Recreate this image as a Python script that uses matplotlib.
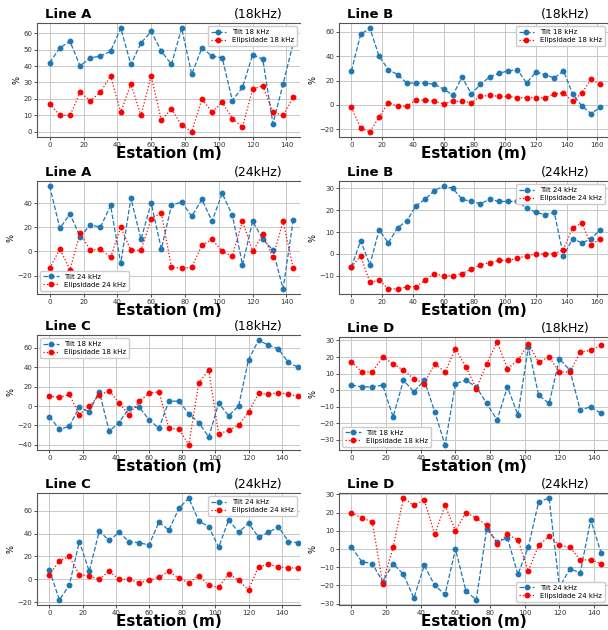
import numpy as np
import matplotlib
matplotlib.use("Agg")
import matplotlib.pyplot as plt

# station positions (m)
x_a = np.arange(0, 145, 6)
x_b = np.arange(0, 163, 6)
x_c = np.arange(0, 151, 6)
x_d = np.arange(0, 145, 6)

# Line A
tilt_a18 = [42, 51, 55, 40, 45, 46, 49, 63, 41, 54, 61, 49, 41, 63, 35, 51, 46, 45, 19, 27, 47, 44, 5, 29, 54]
elip_a18 = [17, 10, 10, 24, 19, 24, 34, 12, 29, 10, 34, 7, 14, 4, 0, 20, 12, 18, 8, 3, 26, 28, 12, 10, 21]
tilt_a24 = [54, 19, 31, 12, 22, 20, 38, -10, 44, 10, 40, 2, 38, 41, 29, 43, 25, 48, 30, -11, 25, 10, 1, -31, 26]
elip_a24 = [-14, 2, -15, 15, 1, 2, -5, 20, 1, 1, 27, 32, -13, -14, -13, 5, 10, 0, -4, 25, 0, 14, -5, 25, -14]

# Line B
tilt_b18 = [28, 58, 63, 40, 29, 25, 18, 18, 18, 17, 13, 8, 23, 9, 17, 23, 26, 28, 29, 18, 27, 25, 22, 28, 9, -1, -7, -2]
elip_b18 = [-2, -19, -22, -10, 2, -1, -1, 4, 4, 3, 1, 3, 3, 2, 7, 8, 7, 7, 6, 6, 6, 6, 9, 10, 3, 10, 21, 17]
tilt_b24 = [-6, 6, -5, 11, 5, 12, 15, 22, 25, 29, 31, 30, 25, 24, 23, 25, 24, 24, 24, 21, 19, 18, 19, -1, 7, 5, 7, 11]
elip_b24 = [-6, -1, -13, -12, -16, -16, -15, -15, -12, -9, -10, -10, -9, -7, -5, -4, -3, -3, -2, -1, 0, 0, 0, 2, 12, 14, 4, 7]

# Line C
tilt_c18 = [-11, -24, -21, -1, -6, 15, -26, -17, -2, -1, -14, -23, 5, 5, -8, -17, -32, 3, -10, 0, 48, 68, 63, 59, 45, 40]
elip_c18 = [10, 9, 12, -9, 0, 11, 16, 3, -9, 5, 13, 15, -23, -24, -40, 24, 37, -29, -25, -20, -6, 13, 12, 14, 12, 10]
tilt_c24 = [8, -18, -5, 33, 7, 42, 34, 41, 33, 32, 30, 50, 43, 62, 71, 51, 46, 28, 52, 41, 49, 37, 41, 46, 33, 32]
elip_c24 = [4, 16, 20, 4, 3, 0, 7, 0, 0, -3, -1, 2, 7, 1, -3, 3, -5, -7, 5, -1, -9, 11, 13, 11, 10, 10]

# Line D
tilt_d18 = [3, 2, 2, 3, -16, 6, -1, 6, -13, -33, 4, 6, 2, -8, -18, 2, -15, 26, -3, -8, 19, 12, -12, -10, -14]
elip_d18 = [17, 11, 11, 20, 16, 12, 7, 4, 16, 11, 25, 14, 1, 16, 29, 13, 18, 28, 17, 20, 11, 11, 23, 24, 27]
tilt_d24 = [1, -7, -8, -18, -8, -14, -27, -9, -20, -25, 0, -23, -28, 11, 4, 6, -14, 1, 26, 28, -21, -11, -13, 16, -2]
elip_d24 = [20, 17, 15, -19, 1, 28, 24, 27, 8, 24, 10, 20, 17, 13, 3, 8, 5, -12, 2, 7, 2, 1, -6, -6, -8]

W, H = 608, 630
fig = plt.figure(figsize=(W / 100, H / 100), dpi=100)


def px_axes(x0, x1, top, bottom):
    return fig.add_axes([x0 / W, 1 - bottom / H, (x1 - x0) / W, (bottom - top) / H])


panels = [
    # line, freq, x, tilt, elip, (x0, x1, top, bottom), xlim, legend loc
    ("Line A", "18", x_a, tilt_a18, elip_a18, (37, 300, 23, 137), (-7.5, 148), "upper right"),
    ("Line B", "18", x_b, tilt_b18, elip_b18, (339, 608, 23, 137), (-8.1, 167), "upper right"),
    ("Line A", "24", x_a, tilt_a24, elip_a24, (37, 300, 181, 294), (-7.5, 148), "lower left"),
    ("Line B", "24", x_b, tilt_b24, elip_b24, (339, 608, 181, 294), (-8.1, 167), "upper right"),
    ("Line C", "18", x_c, tilt_c18, elip_c18, (37, 300, 335, 450), (-7.5, 151), "upper left"),
    ("Line D", "18", x_d, tilt_d18, elip_d18, (339, 608, 337, 450), (-7.2, 148), "lower left"),
    ("Line C", "24", x_c, tilt_c24, elip_c24, (37, 300, 493, 605), (-7.5, 151), "upper right"),
    ("Line D", "24", x_d, tilt_d24, elip_d24, (339, 608, 493, 605), (-7.2, 148), "lower right"),
]

for name, freq, x, tilt, elip, box, xlim, loc in panels:
    ax = px_axes(*box)
    ax.plot(x, tilt, "--o", color="#1f77b4", lw=0.9, ms=3.2, label=f"Tilt {freq} kHz")
    ax.plot(x, elip, ":o", color="red", lw=0.9, ms=3.2, label=f"Elipsidade {freq} kHz")
    ax.set_xlim(*xlim)
    ax.grid(True, color="#c8c8c8", lw=0.7)
    ax.set_axisbelow(True)
    ax.spines["right"].set_visible(False)
    for s in ax.spines.values():
        s.set_color("#555555")
        s.set_linewidth(0.8)
    ax.tick_params(labelsize=5, length=2, width=0.6, pad=1.5, colors="#333333")
    ax.set_ylabel("%", fontsize=6, labelpad=1)
    ax.set_xlabel("Estation (m)", fontsize=11, fontweight="bold", labelpad=-1)
    ax.legend(loc=loc, fontsize=5, handlelength=2.2, borderpad=0.4, labelspacing=0.3,
              framealpha=1, edgecolor="#cccccc")
    ax.text(0.03, 1.02, name, transform=ax.transAxes, fontsize=9.5, fontweight="bold",
            va="bottom", ha="left")
    ax.text(0.84, 1.02, f"({freq}kHz)", transform=ax.transAxes, fontsize=9,
            va="bottom", ha="center")

fig.savefig("out.png", dpi=100)
